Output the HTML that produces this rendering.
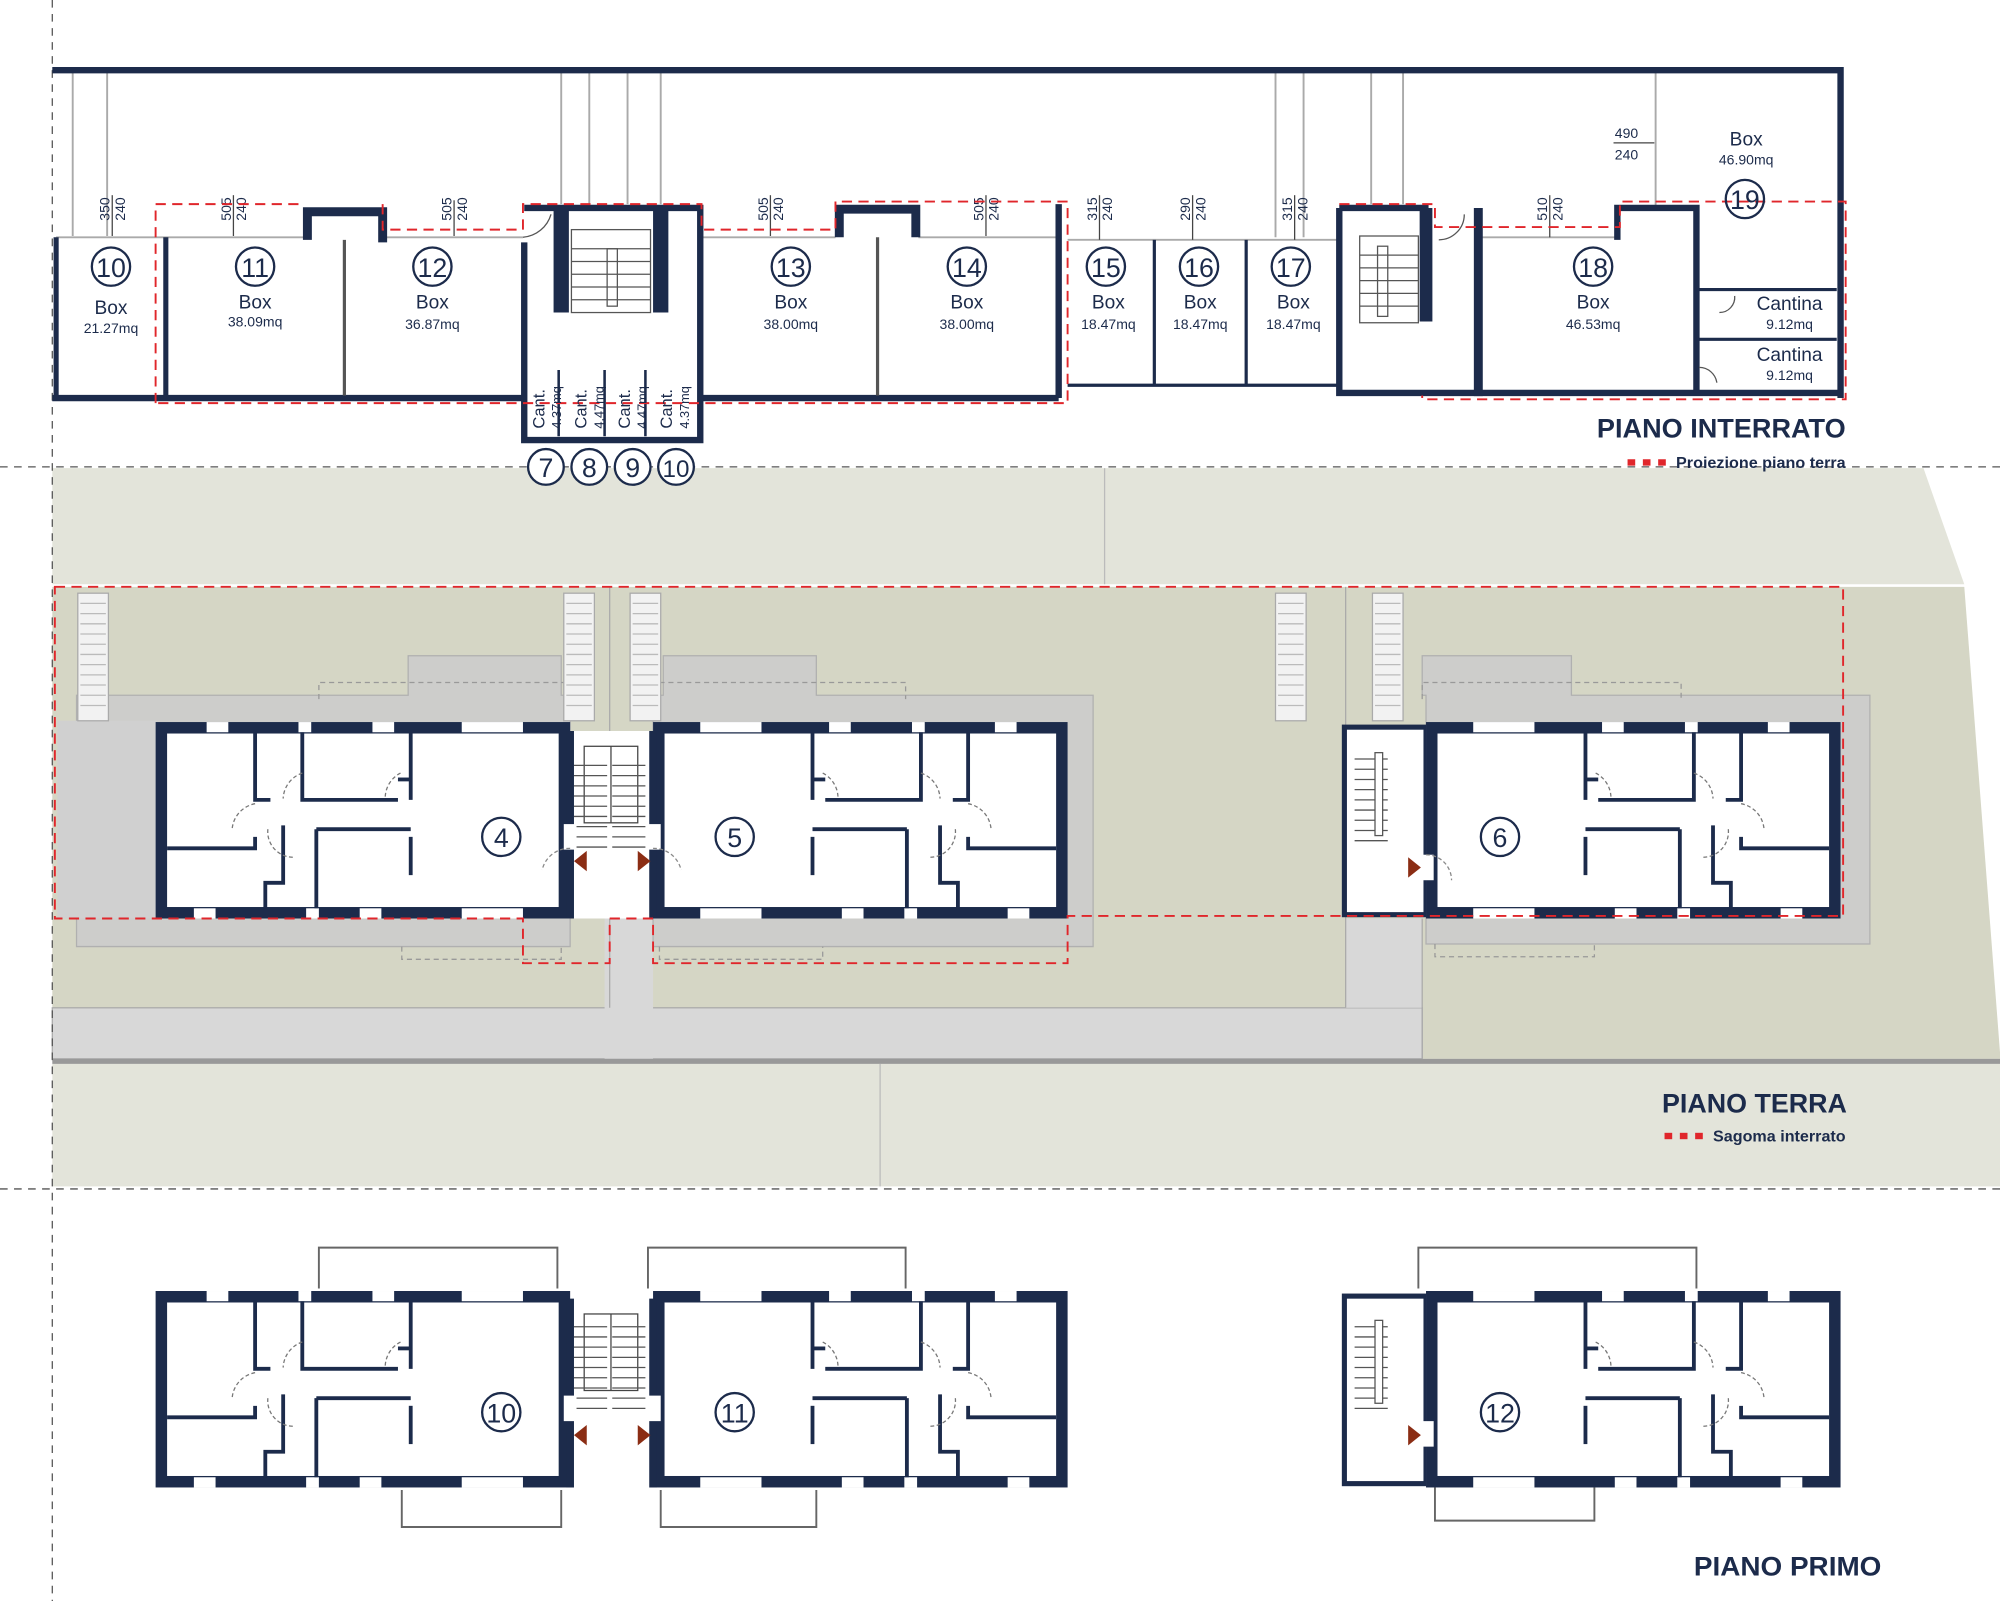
<!DOCTYPE html>
<html><head><meta charset="utf-8"><style>
html,body{margin:0;padding:0;background:#fff;}
svg{display:block;}
text{font-family:"Liberation Sans",sans-serif;fill:#1c2b4b;}
</style></head><body>
<svg width="2000" height="1601" viewBox="0 0 1568 1255" preserveAspectRatio="none" xmlns="http://www.w3.org/2000/svg">
<defs>
<g id="bld">
 <rect x="0" y="0" width="325" height="154" fill="#fff"/>
 <rect x="4.5" y="4.5" width="316" height="145" fill="none" stroke="#1c2b4b" stroke-width="9"/>
 <g fill="#fff">
  <rect x="40" y="0" width="17" height="8"/><rect x="112" y="0" width="10" height="8"/><rect x="170" y="0" width="17" height="8"/><rect x="240" y="0" width="48" height="8"/>
  <rect x="30" y="146" width="17" height="8"/><rect x="118" y="146" width="10" height="8"/><rect x="160" y="146" width="17" height="8"/><rect x="240" y="146" width="48" height="8"/>
 </g>
 <g stroke="#1c2b4b" stroke-width="3" fill="none">
  <path d="M78 8V61H90"/><path d="M115 8V61H190"/><path d="M200 8V61"/><path d="M200 90V120"/><path d="M9 99H78V90"/>
  <path d="M100 81V126H86V146"/><path d="M126 84V146"/><path d="M126 84H200"/>
  <path d="M190 45H200"/>
 </g>
 <g stroke="#777" stroke-width="1" fill="none" stroke-dasharray="3 2">
  <path d="M78 64A22 22 0 0 0 60 84"/><path d="M115 40A22 22 0 0 0 100 60"/><path d="M192 40A22 22 0 0 0 180 60"/><path d="M88 84A20 20 0 0 0 108 106"/>
 </g>
</g>
<g id="stairs">
 <g stroke="#555" stroke-width="1">
  <line x1="0" y1="0" x2="26" y2="0"/><line x1="0" y1="8" x2="26" y2="8"/><line x1="0" y1="16" x2="26" y2="16"/><line x1="0" y1="24" x2="26" y2="24"/><line x1="0" y1="32" x2="26" y2="32"/><line x1="0" y1="40" x2="26" y2="40"/><line x1="0" y1="48" x2="26" y2="48"/><line x1="0" y1="56" x2="26" y2="56"/><line x1="0" y1="64" x2="26" y2="64"/>
 </g>
</g>
<g id="ramp"><rect width="24" height="100" fill="#f2f2f2" stroke="#aaa"/><g stroke="#bbb"><line x1="2" y1="8" x2="22" y2="8"/><line x1="2" y1="16" x2="22" y2="16"/><line x1="2" y1="24" x2="22" y2="24"/><line x1="2" y1="32" x2="22" y2="32"/><line x1="2" y1="40" x2="22" y2="40"/><line x1="2" y1="48" x2="22" y2="48"/><line x1="2" y1="56" x2="22" y2="56"/><line x1="2" y1="64" x2="22" y2="64"/><line x1="2" y1="72" x2="22" y2="72"/><line x1="2" y1="80" x2="22" y2="80"/><line x1="2" y1="88" x2="22" y2="88"/></g></g>
</defs>

<!-- ===== PIANO TERRA backgrounds ===== -->
<polygon points="41,367 1508,367 1540,458 41,458" fill="#e3e4da"/>
<line x1="866" y1="367" x2="866" y2="458" stroke="#bbb"/>
<polygon points="41,460 1540,460 1568,825 1568,830 41,830" fill="#d5d6c5"/>
<rect x="41" y="790" width="1074" height="40" fill="#d8d8d8" stroke="#aaa"/>
<rect x="474" y="720" width="38" height="110" fill="#d8d8d8"/>
<rect x="1055" y="720" width="60" height="70" fill="#d8d8d8"/>
<rect x="41" y="830" width="1527" height="4" fill="#999"/>
<rect x="41" y="834" width="1527" height="96" fill="#e3e4da"/>
<line x1="690" y1="834" x2="690" y2="930" stroke="#bbb"/>

<!-- guides -->
<g stroke="#555" stroke-width="1" stroke-dasharray="6 5" fill="none">
 <line x1="41" y1="0" x2="41" y2="1255"/>
 <line x1="0" y1="366" x2="1568" y2="366"/>
 <line x1="0" y1="932" x2="1568" y2="932"/>
</g>

<!-- ===== PIANO INTERRATO ===== -->
<g stroke="#aaa" stroke-width="1.5" fill="none">
 <line x1="57" y1="57" x2="57" y2="185"/><line x1="84" y1="57" x2="84" y2="185"/>
 <line x1="440" y1="57" x2="440" y2="160"/><line x1="462" y1="57" x2="462" y2="160"/><line x1="492" y1="57" x2="492" y2="160"/><line x1="518" y1="57" x2="518" y2="160"/>
 <line x1="1000" y1="57" x2="1000" y2="186"/><line x1="1022" y1="57" x2="1022" y2="186"/><line x1="1075" y1="57" x2="1075" y2="160"/><line x1="1100" y1="57" x2="1100" y2="160"/>
 <line x1="1298" y1="57" x2="1298" y2="162"/>
 <line x1="44" y1="186" x2="238" y2="186"/><line x1="300" y1="186" x2="410" y2="186"/><line x1="550" y1="186" x2="655" y2="186"/><line x1="720" y1="186" x2="830" y2="186"/>
 <line x1="837" y1="188" x2="1050" y2="188"/><line x1="1160" y1="186" x2="1268" y2="186"/>
</g>
<g stroke="#1c2b4b" fill="none">
 <path d="M41 55H1443V312" stroke-width="5"/>
 <path d="M41 312H410M550 312H830" stroke-width="5"/>
 <path d="M44 186V312M130 186V312" stroke-width="4"/>
 <path d="M241 188V166H300V190" stroke-width="7"/>
 <path d="M270 188V310M688 186V310" stroke-width="2.5" stroke="#555"/>
 <path d="M658 186V164H718V186" stroke-width="7"/>
 <path d="M830 160V312" stroke-width="5"/>
 <path d="M411 190V345H549V163H411" stroke-width="5"/>
 <path d="M440 162V245M518 162V245" stroke-width="12"/>
 <path d="M837 302H1050M905 188V302M977 188V302" stroke-width="2.5"/>
 <path d="M1050 163V308H1160V163M1050 163H1120" stroke-width="5"/>
 <path d="M1118 163V252" stroke-width="10"/>
 <path d="M1158 163V308H1443" stroke-width="5"/>
 <path d="M1268 188V163H1330V308" stroke-width="5"/>
 <path d="M1330 227H1440M1330 266H1440" stroke-width="2.5"/>
 <path d="M438 290V342M474 290V342M506 290V342" stroke-width="2"/>
</g>
<g stroke="#555" stroke-width="1" fill="none">
 <rect x="448" y="180" width="62" height="65"/><rect x="476" y="195" width="8" height="45" fill="#fff"/>
 <line x1="448" y1="195" x2="510" y2="195"/><line x1="448" y1="205" x2="510" y2="205"/><line x1="448" y1="215" x2="510" y2="215"/><line x1="448" y1="225" x2="510" y2="225"/><line x1="448" y1="235" x2="510" y2="235"/>
 <rect x="1066" y="185" width="46" height="68"/><rect x="1080" y="193" width="8" height="55" fill="#fff"/>
 <line x1="1066" y1="200" x2="1112" y2="200"/><line x1="1066" y1="210" x2="1112" y2="210"/><line x1="1066" y1="220" x2="1112" y2="220"/><line x1="1066" y1="230" x2="1112" y2="230"/><line x1="1066" y1="240" x2="1112" y2="240"/>
 <path d="M410 186A25 25 0 0 0 432 168"/><path d="M1128 188A20 20 0 0 0 1148 168"/>
 <path d="M1348 245A12 12 0 0 0 1360 232"/><path d="M1332 288A14 14 0 0 1 1346 300"/>
</g>
<g stroke="#444" stroke-width="1"><line x1="88" y1="153" x2="88" y2="185"/><line x1="183" y1="153" x2="183" y2="185"/><line x1="356" y1="157" x2="356" y2="185"/><line x1="604" y1="153" x2="604" y2="185"/><line x1="773" y1="153" x2="773" y2="185"/><line x1="862" y1="153" x2="862" y2="188"/><line x1="935" y1="153" x2="935" y2="188"/><line x1="1015" y1="153" x2="1015" y2="188"/><line x1="1215" y1="153" x2="1215" y2="186"/><line x1="1265" y1="112" x2="1297" y2="112"/></g>
<g font-size="11" fill="#333">
 <text transform="translate(86,173) rotate(-90)">350</text><text transform="translate(98,173) rotate(-90)">240</text>
 <text transform="translate(181,173) rotate(-90)">505</text><text transform="translate(193,173) rotate(-90)">240</text>
 <text transform="translate(354,173) rotate(-90)">505</text><text transform="translate(366,173) rotate(-90)">240</text>
 <text transform="translate(602,173) rotate(-90)">505</text><text transform="translate(614,173) rotate(-90)">240</text>
 <text transform="translate(771,173) rotate(-90)">505</text><text transform="translate(783,173) rotate(-90)">240</text>
 <text transform="translate(860,173) rotate(-90)">315</text><text transform="translate(872,173) rotate(-90)">240</text>
 <text transform="translate(933,173) rotate(-90)">290</text><text transform="translate(945,173) rotate(-90)">240</text>
 <text transform="translate(1013,173) rotate(-90)">315</text><text transform="translate(1025,173) rotate(-90)">240</text>
 <text transform="translate(1213,173) rotate(-90)">510</text><text transform="translate(1225,173) rotate(-90)">240</text>
 <text x="1266" y="108">490</text><text x="1266" y="125">240</text>
</g>
<g stroke="#e0262b" stroke-width="1.5" fill="none" stroke-dasharray="8 5">
 <path d="M122 316V160H238M300 160V180H410V160H550V180H655V158H837V316H122"/>
 <path d="M1050 160H1125V178H1270V158H1447V313H1115V310"/>
</g>
<g fill="none" stroke="#1c2b4b" stroke-width="1.8">
 <circle cx="87" cy="209" r="15"/><circle cx="200" cy="209" r="15"/><circle cx="339" cy="209" r="15"/><circle cx="620" cy="209" r="15"/><circle cx="758" cy="209" r="15"/><circle cx="867" cy="209" r="15"/><circle cx="940" cy="209" r="15"/><circle cx="1012" cy="209" r="15"/><circle cx="1249" cy="209" r="15"/><circle cx="1368" cy="156" r="15"/>
</g>
<g fill="#fff" stroke="#1c2b4b" stroke-width="1.8">
 <circle cx="428" cy="366" r="14"/><circle cx="462" cy="366" r="14"/><circle cx="496" cy="366" r="14"/><circle cx="530" cy="366" r="14"/>
</g>
<g font-size="21" text-anchor="middle">
 <text x="87" y="217">10</text><text x="200" y="217">11</text><text x="339" y="217">12</text><text x="620" y="217">13</text><text x="758" y="217">14</text><text x="867" y="217">15</text><text x="940" y="217">16</text><text x="1012" y="217">17</text><text x="1249" y="217">18</text><text x="1368" y="164">19</text>
 <text x="428" y="374">7</text><text x="462" y="374">8</text><text x="496" y="374">9</text><text x="530" y="374" font-size="19">10</text>
</g>
<g font-size="15" text-anchor="middle">
 <text x="87" y="246">Box</text><text x="200" y="242">Box</text><text x="339" y="242">Box</text><text x="620" y="242">Box</text><text x="758" y="242">Box</text><text x="869" y="242">Box</text><text x="941" y="242">Box</text><text x="1014" y="242">Box</text><text x="1249" y="242">Box</text><text x="1369" y="114">Box</text>
 <text x="1403" y="243">Cantina</text><text x="1403" y="283">Cantina</text>
</g>
<g font-size="11" text-anchor="middle">
 <text x="87" y="261">21.27mq</text><text x="200" y="256">38.09mq</text><text x="339" y="258">36.87mq</text><text x="620" y="258">38.00mq</text><text x="758" y="258">38.00mq</text><text x="869" y="258">18.47mq</text><text x="941" y="258">18.47mq</text><text x="1014" y="258">18.47mq</text><text x="1249" y="258">46.53mq</text><text x="1369" y="129">46.90mq</text>
 <text x="1403" y="258">9.12mq</text><text x="1403" y="298">9.12mq</text>
</g>
<g font-size="13">
 <text transform="translate(427,336) rotate(-90)">Cant.</text><text transform="translate(440,336) rotate(-90)" font-size="10">4.37mq</text>
 <text transform="translate(460,336) rotate(-90)">Cant.</text><text transform="translate(473,336) rotate(-90)" font-size="10">4.47mq</text>
 <text transform="translate(494,336) rotate(-90)">Cant.</text><text transform="translate(507,336) rotate(-90)" font-size="10">4.47mq</text>
 <text transform="translate(527,336) rotate(-90)">Cant.</text><text transform="translate(540,336) rotate(-90)" font-size="10">4.37mq</text>
</g>
<text x="1252" y="343" font-size="21" font-weight="bold" textLength="195" lengthAdjust="spacingAndGlyphs">PIANO INTERRATO</text>
<g fill="#e0262b"><rect x="1276" y="360" width="6" height="5"/><rect x="1288" y="360" width="6" height="5"/><rect x="1300" y="360" width="6" height="5"/></g>
<text x="1314" y="367" font-size="12" font-weight="bold" textLength="133" lengthAdjust="spacingAndGlyphs">Proiezione piano terra</text>

<!-- ===== PIANO TERRA ===== -->
<g stroke="#aaa" fill="none"><line x1="478" y1="460" x2="478" y2="790"/><line x1="1055" y1="460" x2="1055" y2="790"/><line x1="1115" y1="720" x2="1115" y2="830"/></g>
<g fill="#cdcdcb" stroke="#b0b0b0">
 <path d="M60 545H320V514H440V545H447V742H60Z"/>
 <path d="M512 545H520V514H640V545H857V742H512Z"/>
 <path d="M1118 545H1115V514H1232V545H1466V740H1118Z"/>
</g>
<g fill="#d0d0d0"><rect x="45" y="565" width="78" height="155"/></g>
<g stroke="#999" stroke-dasharray="4 3" fill="none"><path d="M250 548V535H465V565"/><path d="M512 565V535H710V548"/><path d="M1115 548V535H1318V548"/><path d="M315 742V752H440V742"/><path d="M517 742V752H645V742"/><path d="M1125 740V750H1250V740"/></g>
<use href="#ramp" x="61" y="465"/><use href="#ramp" x="442" y="465"/><use href="#ramp" x="494" y="465"/><use href="#ramp" x="1000" y="465"/><use href="#ramp" x="1076" y="465"/>
<rect x="447" y="573" width="65" height="147" fill="#fff"/>
<g stroke="#444" fill="none"><rect x="458" y="585" width="42" height="60"/><line x1="479" y1="585" x2="479" y2="645"/></g>
<use href="#stairs" x="450" y="600"/><use href="#stairs" x="480" y="600"/>
<rect x="1054" y="570" width="64" height="147" fill="#fff" stroke="#1c2b4b" stroke-width="4"/>
<use href="#stairs" x="1062" y="595"/>
<rect x="1078" y="590" width="6" height="65" fill="#fff" stroke="#555"/>
<use href="#bld" x="122" y="566"/>
<use href="#bld" transform="translate(837,566) scale(-1,1)"/>
<use href="#bld" transform="translate(1443,566) scale(-1,1)"/>
<g stroke="#1c2b4b" stroke-width="6"><line x1="447" y1="573" x2="447" y2="720"/><line x1="512" y1="573" x2="512" y2="720"/></g>
<g fill="#fff"><rect x="442" y="646" width="10" height="20"/><rect x="508" y="646" width="10" height="20"/><rect x="1114" y="670" width="10" height="20"/></g>
<g fill="#8b2d14"><polygon points="450,675 460,667 460,683"/><polygon points="510,675 500,667 500,683"/><polygon points="1114,680 1104,672 1104,688"/></g>
<g stroke="#888" stroke-dasharray="3 2" fill="none"><path d="M447 665A22 22 0 0 0 425 682"/><path d="M512 665A22 22 0 0 1 534 682"/><path d="M1118 670A20 20 0 0 1 1138 690"/></g>
<g fill="none" stroke="#1c2b4b" stroke-width="1.8"><circle cx="393" cy="656" r="15"/><circle cx="576" cy="656" r="15"/><circle cx="1176" cy="656" r="15"/></g>
<g font-size="21" text-anchor="middle"><text x="393" y="664">4</text><text x="576" y="664">5</text><text x="1176" y="664">6</text></g>
<g stroke="#e0262b" stroke-width="1.5" fill="none" stroke-dasharray="8 5">
 <path d="M43 460H1445V718H837V755H512V720H478V755H410V720H43Z"/>
</g>
<text x="1303" y="872" font-size="21" font-weight="bold" textLength="145" lengthAdjust="spacingAndGlyphs">PIANO TERRA</text>
<g fill="#e0262b"><rect x="1305" y="888" width="6" height="5"/><rect x="1317" y="888" width="6" height="5"/><rect x="1329" y="888" width="6" height="5"/></g>
<text x="1343" y="895" font-size="12" font-weight="bold" textLength="104" lengthAdjust="spacingAndGlyphs">Sagoma interrato</text>

<!-- ===== PIANO PRIMO ===== -->
<g stroke="#666" stroke-width="1.5" fill="none">
 <path d="M250 1010V978H437V1010"/><path d="M508 1010V978H710V1010"/><path d="M1112 1010V978H1330V1010"/>
 <path d="M315 1168V1197H440V1168"/><path d="M518 1168V1197H640V1168"/><path d="M1125 1163V1192H1250V1163"/>
</g>
<rect x="447" y="1018" width="65" height="145" fill="#fff"/>
<g stroke="#444" fill="none"><rect x="458" y="1030" width="42" height="60"/><line x1="479" y1="1030" x2="479" y2="1090"/></g>
<use href="#stairs" x="450" y="1040"/><use href="#stairs" x="480" y="1040"/>
<rect x="1054" y="1016" width="64" height="147" fill="#fff" stroke="#1c2b4b" stroke-width="4"/>
<use href="#stairs" x="1062" y="1040"/>
<rect x="1078" y="1035" width="6" height="65" fill="#fff" stroke="#555"/>
<use href="#bld" x="122" y="1012"/>
<use href="#bld" transform="translate(837,1012) scale(-1,1)"/>
<use href="#bld" transform="translate(1443,1012) scale(-1,1)"/>
<g stroke="#1c2b4b" stroke-width="6"><line x1="447" y1="1018" x2="447" y2="1166"/><line x1="512" y1="1018" x2="512" y2="1166"/></g>
<g fill="#fff"><rect x="442" y="1094" width="10" height="20"/><rect x="508" y="1094" width="10" height="20"/><rect x="1114" y="1114" width="10" height="20"/></g>
<g fill="#8b2d14"><polygon points="450,1125 460,1117 460,1133"/><polygon points="510,1125 500,1117 500,1133"/><polygon points="1114,1125 1104,1117 1104,1133"/></g>
<g fill="none" stroke="#1c2b4b" stroke-width="1.8"><circle cx="393" cy="1107" r="15"/><circle cx="576" cy="1107" r="15"/><circle cx="1176" cy="1107" r="15"/></g>
<g font-size="21" text-anchor="middle"><text x="393" y="1115">10</text><text x="576" y="1115">11</text><text x="1176" y="1115">12</text></g>
<text x="1328" y="1235" font-size="21" font-weight="bold" textLength="147" lengthAdjust="spacingAndGlyphs">PIANO PRIMO</text>
</svg>
</body></html>
